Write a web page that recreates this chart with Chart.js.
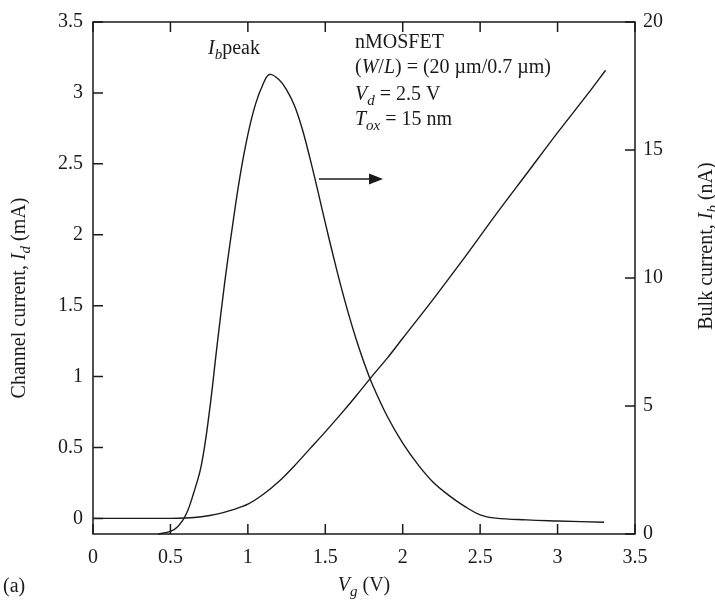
<!DOCTYPE html>
<html>
<head>
<meta charset="utf-8">
<script src="https://cdn.jsdelivr.net/npm/chart.js@4.4.1/dist/chart.umd.min.js"></script>
<style>
  html, body { margin: 0; padding: 0; background: #fff; }
  canvas { display: block; }
</style>
</head>
<body>
<canvas id="c" width="715" height="602"></canvas>
<script>
// ---- 数据：从原图读取 ----
// 沟道电流 Id (mA)，左轴
const vgId  = [0, 0.3, 0.5, 0.6, 0.7, 0.8, 0.9, 1.0, 1.1, 1.2, 1.3, 1.4, 1.5, 1.6, 1.7, 1.8, 1.9, 2.0, 2.2, 2.4, 2.6, 2.8, 3.0, 3.2, 3.31];
const idVals = [0, 0, 0, 0.003, 0.012, 0.03, 0.06, 0.10, 0.17, 0.26, 0.37, 0.49, 0.61, 0.735, 0.865, 1.0, 1.13, 1.27, 1.55, 1.84, 2.14, 2.43, 2.72, 3.0, 3.16];

// 衬底电流 Ib (nA)，右轴
const vgIb  = [0.42, 0.5, 0.55, 0.6, 0.65, 0.7, 0.75, 0.8, 0.85, 0.9, 0.95, 1.0, 1.05, 1.1, 1.14, 1.2, 1.25, 1.3, 1.35, 1.4, 1.45, 1.5, 1.55, 1.6, 1.65, 1.7, 1.75, 1.8, 1.9, 2.0, 2.1, 2.2, 2.3, 2.4, 2.5, 2.6, 2.8, 3.0, 3.3];
const ibVals = [0, 0.1, 0.3, 0.75, 1.6, 2.7, 4.7, 7.3, 9.8, 12.0, 14.0, 15.6, 16.8, 17.6, 17.95, 17.75, 17.35, 16.75, 15.85, 14.7, 13.45, 12.15, 10.9, 9.7, 8.6, 7.6, 6.7, 5.9, 4.6, 3.55, 2.7, 2.0, 1.5, 1.08, 0.75, 0.62, 0.55, 0.51, 0.46];

// 刻度
const xTicks  = [0, 0.5, 1, 1.5, 2, 2.5, 3, 3.5];
const idTicks = [0, 0.5, 1, 1.5, 2, 2.5, 3, 3.5];
const ibTicks = [0, 5, 10, 15, 20];

const SERIF = "'Liberation Serif', 'Times New Roman', serif";
const INK = '#1a1a1a';

function fnt(size, italic) {
  return (italic ? 'italic ' : '') + size + 'px ' + SERIF;
}

// 绘制带斜体 / 下标的文本
function richText(ctx, parts, x, y, align) {
  let w = 0;
  parts.forEach(p => {
    ctx.font = fnt(p.sub ? 15 : 20, p.it);
    w += ctx.measureText(p.t).width;
  });
  let cx = align === 'center' ? x - w / 2 : x;
  ctx.textAlign = 'left';
  ctx.textBaseline = 'alphabetic';
  parts.forEach(p => {
    ctx.font = fnt(p.sub ? 15 : 20, p.it);
    ctx.fillText(p.t, cx, y + (p.sub ? 5 : 0));
    cx += ctx.measureText(p.t).width;
  });
}

// 边框、向内刻度、标注文字
const decorations = {
  id: 'decorations',
  afterDraw(chart) {
    const { ctx, chartArea: a, scales } = chart;
    ctx.save();
    ctx.strokeStyle = INK;
    ctx.lineWidth = 1.5;
    ctx.strokeRect(a.left, a.top, a.right - a.left, a.bottom - a.top);

    const tl = 10;
    ctx.beginPath();
    xTicks.forEach(v => {
      const px = scales.x.getPixelForValue(v);
      ctx.moveTo(px, a.bottom); ctx.lineTo(px, a.bottom - tl);
      ctx.moveTo(px, a.top); ctx.lineTo(px, a.top + tl);
    });
    idTicks.forEach(v => {
      const py = scales.y.getPixelForValue(v);
      ctx.moveTo(a.left, py); ctx.lineTo(a.left + tl, py);
    });
    ibTicks.forEach(v => {
      const py = scales.y2.getPixelForValue(v);
      ctx.moveTo(a.right, py); ctx.lineTo(a.right - tl, py);
    });
    ctx.stroke();

    ctx.fillStyle = INK;
    // 注释
    richText(ctx, [{ t: 'I', it: true }, { t: 'b', it: true, sub: true }, { t: 'peak' }], 208, 54);
    richText(ctx, [{ t: 'nMOSFET' }], 355, 48);
    richText(ctx, [{ t: '(' }, { t: 'W', it: true }, { t: '/' }, { t: 'L', it: true }, { t: ') = (20 µm/0.7 µm)' }], 355, 73);
    richText(ctx, [{ t: 'V', it: true }, { t: 'd', it: true, sub: true }, { t: ' = 2.5 V' }], 355, 100);
    richText(ctx, [{ t: 'T', it: true }, { t: 'ox', it: true, sub: true }, { t: ' = 15 nm' }], 355, 125);

    // 箭头
    ctx.beginPath();
    ctx.moveTo(319, 179); ctx.lineTo(372, 179);
    ctx.stroke();
    ctx.beginPath();
    ctx.moveTo(383, 179); ctx.lineTo(369, 173.5); ctx.lineTo(369, 184.5);
    ctx.closePath();
    ctx.fill();

    // 坐标轴标题
    richText(ctx, [{ t: 'V', it: true }, { t: 'g', it: true, sub: true }, { t: ' (V)' }], 364, 591, 'center');
    richText(ctx, [{ t: '(a)' }], 3, 592);

    ctx.save();
    ctx.translate(25, 298);
    ctx.rotate(-Math.PI / 2);
    richText(ctx, [{ t: 'Channel current, ' }, { t: 'I', it: true }, { t: 'd', it: true, sub: true }, { t: ' (mA)' }], 0, 0, 'center');
    ctx.restore();

    ctx.save();
    ctx.translate(712, 246);
    ctx.rotate(-Math.PI / 2);
    richText(ctx, [{ t: 'Bulk current, ' }, { t: 'I', it: true }, { t: 'b', it: true, sub: true }, { t: ' (nA)' }], 0, 0, 'center');
    ctx.restore();

    ctx.restore();
  }
};

const tickFont = { family: SERIF, size: 20 };

new Chart(document.getElementById('c'), {
  type: 'scatter',
  data: {
    datasets: [
      {
        label: 'Id',
        data: vgId.map((v, i) => ({ x: v, y: idVals[i] })),
        yAxisID: 'y',
        showLine: true,
        borderColor: INK,
        borderWidth: 1.4,
        pointRadius: 0,
        cubicInterpolationMode: 'monotone',
        clip: 3
      },
      {
        label: 'Ib',
        data: vgIb.map((v, i) => ({ x: v, y: ibVals[i] })),
        yAxisID: 'y2',
        showLine: true,
        borderColor: INK,
        borderWidth: 1.4,
        pointRadius: 0,
        tension: 0.4,
        clip: 3
      }
    ]
  },
  options: {
    responsive: false,
    animation: false,
    events: [],
    layout: { padding: { top: 14.5, left: 0, right: 0, bottom: 0 } },
    plugins: { legend: { display: false }, tooltip: { enabled: false } },
    scales: {
      x: {
        type: 'linear',
        min: 0, max: 3.5,
        afterBuildTicks: s => { s.ticks = xTicks.map(v => ({ value: v })); },
        afterFit: s => { s.height = 68; },
        grid: { display: false, drawTicks: false },
        border: { display: false },
        ticks: { font: tickFont, color: INK, padding: 12, maxRotation: 0, callback: v => String(v) }
      },
      y: {
        position: 'left',
        min: -0.11, max: 3.5,
        afterBuildTicks: s => { s.ticks = idTicks.map(v => ({ value: v })); },
        afterFit: s => { s.width = 93; },
        grid: { display: false, drawTicks: false },
        border: { display: false },
        ticks: { font: tickFont, color: INK, padding: 10, callback: v => String(v) }
      },
      y2: {
        position: 'right',
        min: 0, max: 20,
        afterBuildTicks: s => { s.ticks = ibTicks.map(v => ({ value: v })); },
        afterFit: s => { s.width = 80; },
        grid: { display: false, drawTicks: false },
        border: { display: false },
        ticks: { font: tickFont, color: INK, padding: 8, callback: v => String(v) }
      }
    }
  },
  plugins: [decorations]
});
</script>
</body>
</html>
